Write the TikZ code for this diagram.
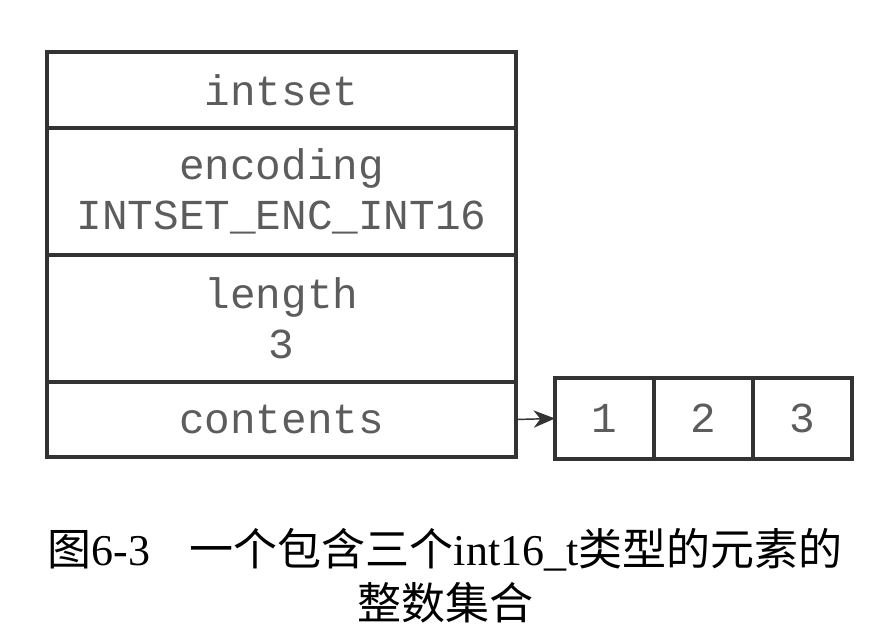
\documentclass[tikz,border=0pt]{standalone}
\usepackage{fontspec}
\setmainfont{Liberation Serif}
\setmonofont{Liberation Mono}
\newfontfamily\cjk{Noto Sans CJK SC}
\usepackage{xcolor}
\usepackage{tikz}
\usetikzlibrary{positioning,arrows.meta}

\definecolor{boxline}{HTML}{333333}
\definecolor{boxtext}{HTML}{5C5C5C}

\begin{document}
\begin{tikzpicture}[x=0.75pt, y=0.75pt,
  cell/.style={draw=boxline, line width=3.4pt, rectangle, inner sep=0pt, outer sep=0pt,
    minimum width=351.75pt, align=center, text=boxtext,
    font=\ttfamily\fontsize{32}{37.5}\selectfont},
  slot/.style={cell, minimum width=74.25pt, minimum height=60.75pt}]
\useasboundingbox (0,0) rectangle (886,630);
% ---- intset structure ----
\node[cell, minimum height=57pt] (head) at (281.5,540) {intset};
\node[cell, minimum height=95.25pt, below=0pt of head] (enc) {encoding\\INTSET\_ENC\_INT16};
\node[cell, minimum height=95.25pt, below=0pt of enc] (len) {length\\3};
\node[cell, minimum height=56.25pt, below=0pt of len] (cont) {contents};
% ---- contents array ----
\node[slot] (e1) at (604.5,211.5) {1};
\node[slot, right=0pt of e1] (e2) {2};
\node[slot, right=0pt of e2] (e3) {3};
\draw[boxline, line width=1.1pt, -{Stealth[length=16pt, width=13pt, inset=5pt]}] (cont.east) -- (e1.west);
% ---- caption ----
\node[font=\fontsize{33}{40}\selectfont] (cap1) at (445,80)
  {{\cjk 图}6-3\hspace{0.9em}{\cjk 一个包含三个}int16\_t{\cjk 类型的元素的}};
\node[font=\fontsize{33}{40}\selectfont] (cap2) at (445,27) {\cjk 整数集合};
\end{tikzpicture}
\end{document}
